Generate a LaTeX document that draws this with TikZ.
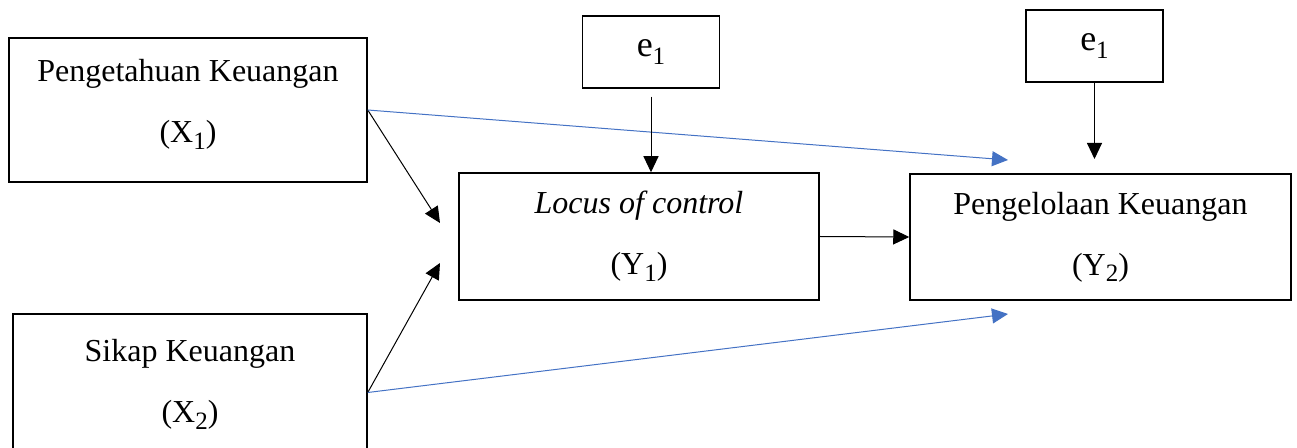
\documentclass[tikz,border=0pt]{standalone}
\usepackage{fontspec}
\setmainfont{Liberation Serif}
\usepackage{tikz}
\usetikzlibrary{arrows.meta}
\definecolor{pathblue}{RGB}{68,114,196}
\newcommand\idx[1]{\raisebox{-0.45ex}{\fontsize{12.5}{12.5}\selectfont #1}}

\begin{document}
\begin{tikzpicture}[x=0.5pt,y=-0.5pt,>={Triangle[length=8pt,width=7.5pt]},line width=0.5pt,
  varbox/.style={draw,line width=0.75pt,align=center,inner sep=0pt,font=\fontsize{16}{30.5}\selectfont},
  errbox/.style={draw,line width=0.75pt,inner sep=0pt,minimum width=68.5pt,minimum height=36pt,font=\fontsize{18}{20}\selectfont}]
\useasboundingbox (0,0) rectangle (1297,448);
\clip (0,0) rectangle (1297,448);
\node[varbox,minimum width=179pt,minimum height=72pt] (x1) at (188,110) {Pengetahuan Keuangan\\(X\idx{1})\rule[-9pt]{0pt}{0pt}};
\node[varbox,minimum width=177pt,minimum height=70.5pt] (x2) at (190,384.5) {Sikap Keuangan\\(X\idx{2})};
\node[varbox,minimum width=180pt,minimum height=63.5pt] (y1) at (639,236.5) {\textit{Locus of control}\\(Y\idx{1})};
\node[varbox,minimum width=190.5pt,minimum height=63pt] (y2) at (1100.5,237) {Pengelolaan Keuangan\\(Y\idx{2})};
\node[errbox] (e1a) at (651,52) {e\idx{1}};
\node[errbox] (e1b) at (1094.5,46) {e\idx{1}};
\coordinate (t1) at (440,223);
\coordinate (t2) at (440,263);
\coordinate (t3) at (1008,160);
\coordinate (t4) at (1008,314);
\coordinate (t5) at (1094.5,159);

\draw[->] (x1.east) -- (t1);
\draw[->] ([yshift=-4pt]x2.east) -- (t2);
\draw[->,pathblue] (x1.east) -- (t3);
\draw[->,pathblue] ([yshift=-4pt]x2.east) -- (t4);
\draw[->,shorten <=4pt] (e1a.south) -- (e1a.south |- y1.north);
\draw[->] (e1b.south) -- (t5);
\draw[->] (y1.east) -- (y2.west);
\end{tikzpicture}
\end{document}
